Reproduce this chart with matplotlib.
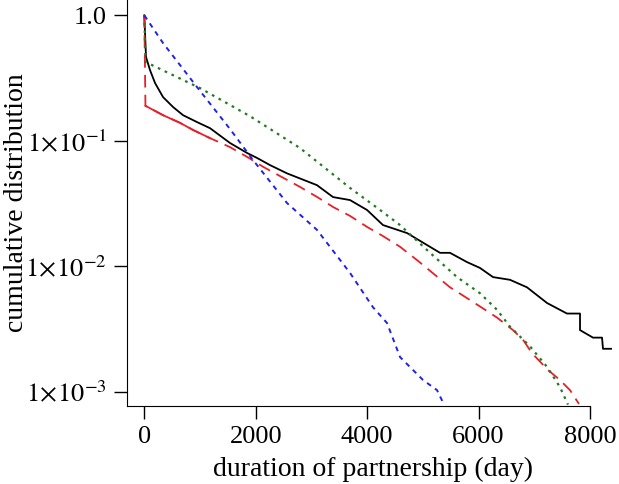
import matplotlib
matplotlib.use("Agg")
import matplotlib.pyplot as plt

plt.rcParams['font.family'] = ['Liberation Serif', 'DejaVu Serif']
plt.rcParams['mathtext.fontset'] = 'stix'

# black: empirical distribution
black_x = [0, 30, 102, 192, 336, 515, 695, 946, 1180, 1539, 1844, 2023, 2257, 2562,
           3100, 3388, 3693, 3998, 4285, 4716, 5309, 5488, 5793, 6026, 6260, 6565,
           6870, 7229, 7588, 7822, 7822, 8055, 8217, 8235, 8379]
black_y = [1.0, 0.466, 0.366, 0.289, 0.223, 0.186, 0.160, 0.141, 0.126, 0.096, 0.080,
           0.073, 0.064, 0.055, 0.0443, 0.0356, 0.0337, 0.0281, 0.0213, 0.0184, 0.0128,
           0.0128, 0.0108, 0.0097, 0.0082, 0.0078, 0.0068, 0.0051, 0.0042, 0.0042,
           0.0031, 0.0027, 0.0027, 0.0022, 0.0022]

# red
red_x = [0, 20, 336, 641, 874, 1180, 1539, 1844, 2131, 2562, 2795, 3100, 3388, 3693,
         3998, 4285, 4591, 4896, 5488, 5901, 6332, 6619, 6798, 6960, 7247, 7462, 7642, 7803]
red_y = [1.0, 0.19, 0.160, 0.139, 0.122, 0.105, 0.089, 0.0745, 0.0621, 0.0488, 0.0429,
         0.0357, 0.0297, 0.0252, 0.0206, 0.0174, 0.0143, 0.0112, 0.0068, 0.0052, 0.0039,
         0.0031, 0.0026, 0.00203, 0.00149, 0.00124, 0.00103, 0.00080]

# green
green_x = [0, 20, 1000, 1898, 2796, 3693, 4232, 4591, 5130, 5614, 6026, 6332, 6565,
           6924, 7229, 7462, 7606]
green_y = [1.0, 0.425, 0.263, 0.157, 0.0875, 0.0421, 0.0281, 0.0213, 0.0128, 0.0082,
           0.0061, 0.0045, 0.0033, 0.0023, 0.00158, 0.00109, 0.00079]

# blue
blue_x = [0, 336, 946, 1539, 1951, 2562, 3100, 3693, 4106, 4357, 4591, 5004, 5255, 5381]
blue_y = [1.0, 0.601, 0.268, 0.124, 0.0703, 0.0319, 0.0195, 0.00885, 0.00471, 0.00353,
          0.00189, 0.00124, 0.00103, 0.00079]

fig = plt.figure(figsize=(6.19, 4.84), dpi=100)
ax = fig.add_axes([127 / 619, 78 / 484, 492 / 619, 406 / 484])

ax.plot(black_x, black_y, color='black', lw=1.3)
ax.plot(red_x, red_y, color='#e8202a', lw=1.3, dashes=(7, 4))
ax.plot(red_x[1:6], red_y[1:6], color='#e8202a', lw=1.3)
ax.plot(green_x, green_y, color='#237a23', lw=1.6, dashes=(1.2, 2.2))
ax.plot(blue_x, blue_y, color='#2020e8', lw=1.4, dashes=(2.5, 2.5))

ax.set_yscale('log')
ax.set_xlim(-311, 8522)
ax.set_ylim(7.7e-4, 1.3245)

ax.set_xticks([0, 2000, 4000, 6000, 8000])
ax.set_yticks([1.0, 0.1, 0.01, 0.001])
ax.set_yticklabels(['1.0', r'$1\!\times\!10^{-1}$', r'$1\!\times\!10^{-2}$',
                    r'$1\!\times\!10^{-3}$'])
ax.minorticks_off()

for s in ['top', 'right']:
    ax.spines[s].set_visible(False)
ax.spines['bottom'].set_bounds(-311, 8000)
ax.tick_params(labelsize=19, length=9.5, width=1.0, pad=5)

ax.set_xlabel('duration of partnership (day)', fontsize=20)
ax.xaxis.set_label_coords(0.5, -0.125)
ax.set_ylabel('cumulative distribution', fontsize=20)
ax.yaxis.set_label_coords(-0.200, 0.5)

fig.savefig('out.png', dpi=100)
